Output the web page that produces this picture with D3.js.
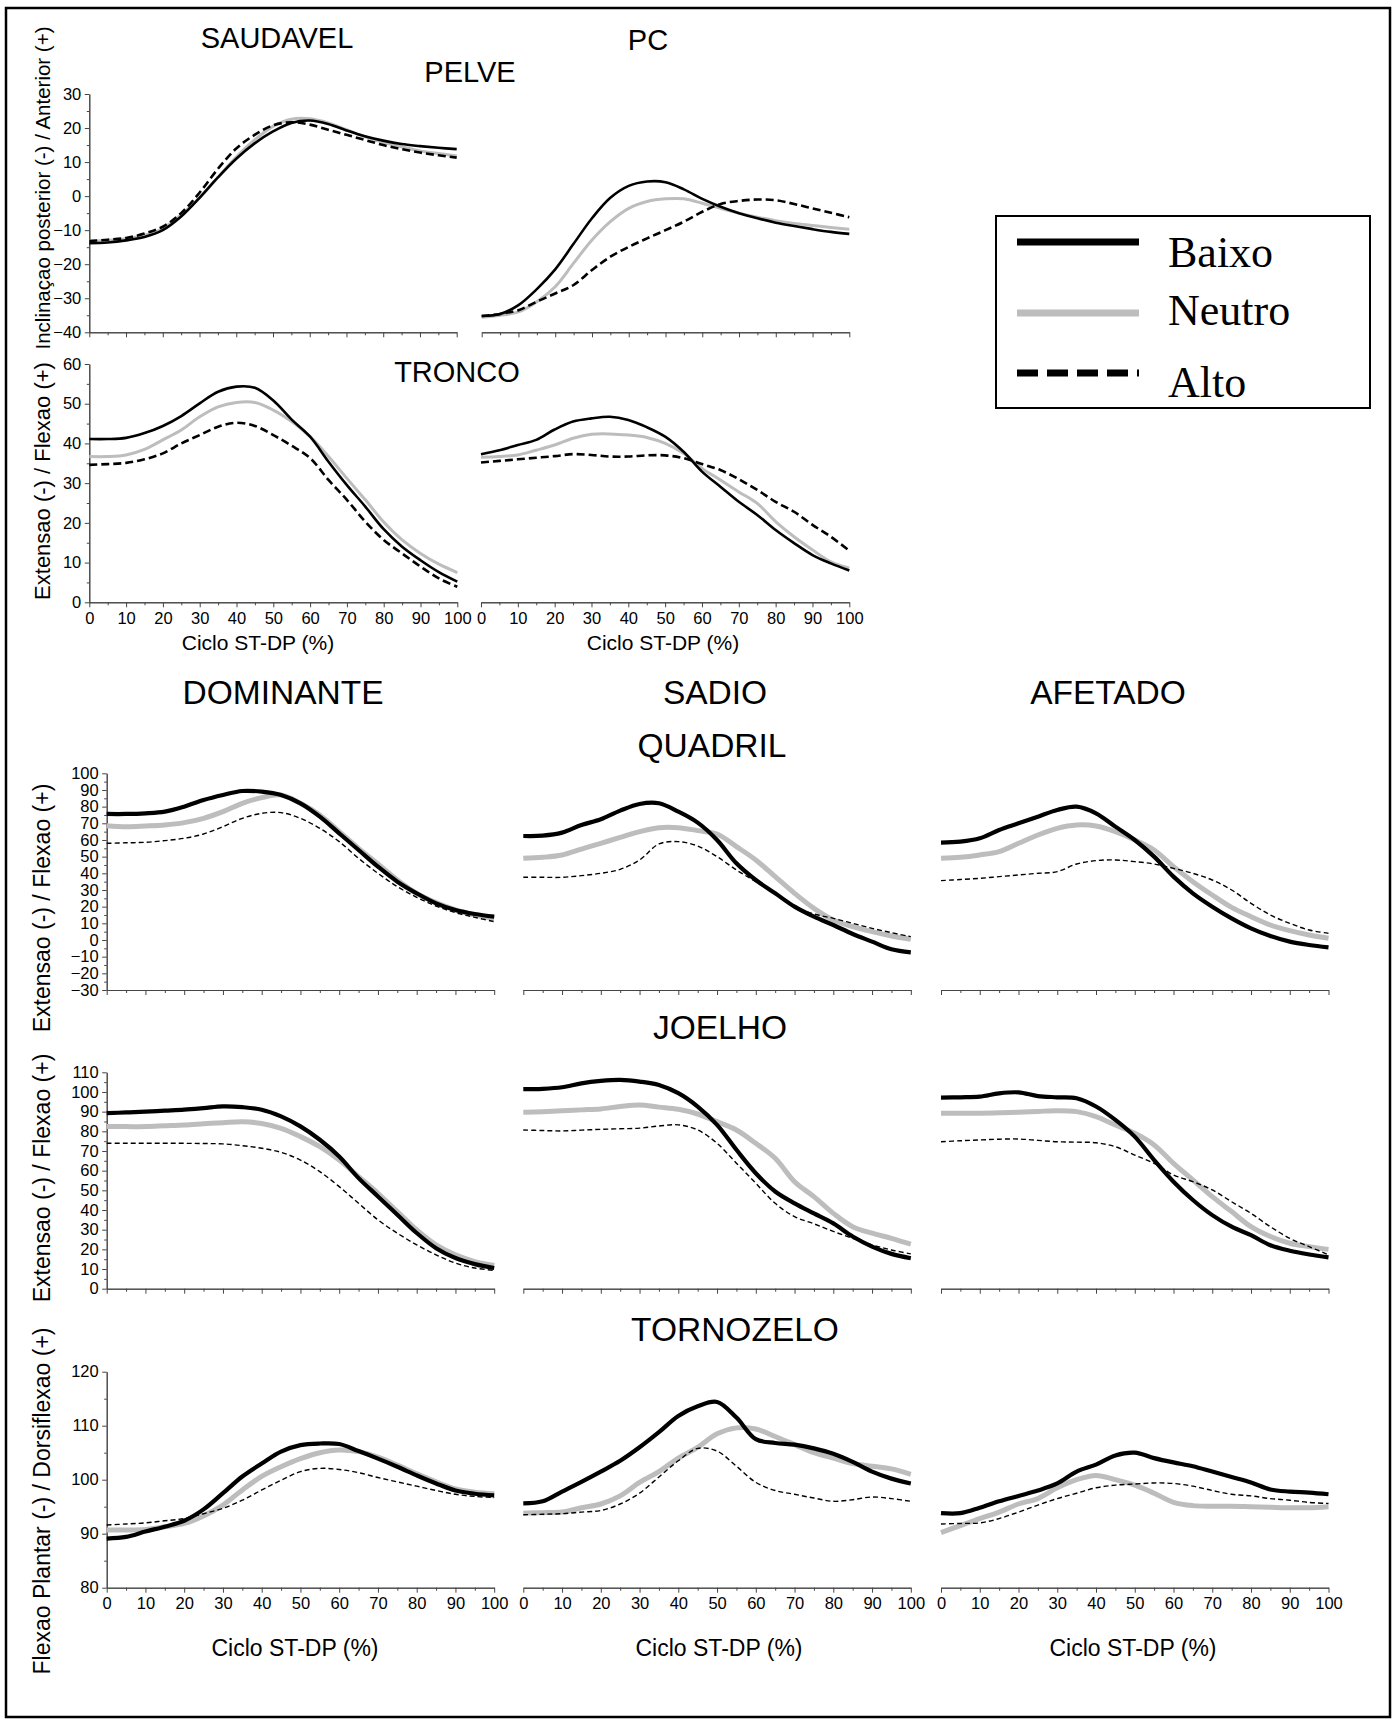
<!DOCTYPE html>
<html>
<head>
<meta charset="utf-8">
<script src="https://cdn.jsdelivr.net/npm/d3@7"></script>
<style>
body { margin: 0; background: #fff; }
svg text { font-family: "Liberation Sans", Arial, sans-serif; fill: #000; }
.axis path, .axis line { stroke: #444; stroke-width: 1; }
.axis text { font-size: 16.5px; font-family: "Liberation Sans", Arial, sans-serif; fill: #000; }
</style>
</head>
<body>
<svg id="chart" width="1393" height="1720"></svg>
<script>
// % of the ST-DP cycle
const cycle = [0, 5, 10, 15, 20, 25, 30, 35, 40, 45, 50, 55, 60, 65, 70, 75, 80, 85, 90, 95, 100];
const xTickLabels = [0, 10, 20, 30, 40, 50, 60, 70, 80, 90, 100];

const seriesNames = ['Baixo', 'Neutro', 'Alto'];

// PELVE
const pelveSaudBaixo  = [-13.8, -13.6, -13, -12, -10, -6, -0.5, 5.5, 11, 15.5, 19, 21.5, 22.2, 21.2, 19.3, 17.6, 16.3, 15.3, 14.7, 14.2, 13.8];
const pelveSaudNeutro = [-13.2, -13, -12.5, -11.5, -9.5, -5.5, -0.5, 5.5, 11.5, 16.5, 20.5, 22.6, 22.7, 21.5, 19.5, 17.5, 15.8, 14.5, 13.3, 12.5, 11.8];
const pelveSaudAlto   = [-13.2, -12.8, -12.3, -11, -9, -5, 1, 8, 14, 18, 20.8, 21.7, 21, 19.5, 18, 16.5, 15, 13.8, 12.8, 12, 11.3];
const pelvePcBaixo    = [-35.2, -34.6, -32, -27.3, -21.5, -14, -6.5, -0.5, 3, 4.3, 4.1, 2, -0.8, -3.1, -5, -6.5, -7.8, -8.8, -9.7, -10.5, -11.1];
const pelvePcNeutro   = [-35.6, -35, -34, -31, -26.6, -19.7, -12.9, -7.5, -3.6, -1.6, -0.8, -0.8, -2.1, -3.6, -5, -6.2, -7.2, -8, -8.6, -9.2, -9.7];
const pelvePcAlto     = [-35.2, -34.6, -33.5, -31, -28.6, -26.1, -21.7, -17.8, -14.9, -12.4, -10, -7.5, -4.6, -2.3, -1.4, -1, -1.2, -2.3, -3.6, -4.9, -6.2];

// TRONCO
const troncoSaudBaixo  = [41.1, 41.1, 41.4, 42.6, 44.4, 46.9, 50.1, 53, 54.3, 54, 50.8, 46, 41.7, 35.4, 29.5, 24.1, 18.4, 14, 10.6, 7.6, 5.2];
const troncoSaudNeutro = [36.7, 36.7, 37.1, 38.5, 40.9, 43.4, 46.7, 49.2, 50.3, 50.3, 48.4, 45.5, 41.7, 36.7, 31.2, 25.8, 20.2, 15.7, 12.3, 9.6, 7.5];
const troncoSaudAlto   = [34.6, 34.8, 35.1, 36, 37.5, 40, 42.1, 44.2, 45.2, 44.4, 42.1, 39.4, 36.3, 30.8, 25.8, 20.3, 15.7, 12.3, 9, 6, 3.9];
const troncoPcBaixo    = [37.3, 38.3, 39.6, 40.9, 43.5, 45.5, 46.3, 46.7, 45.9, 44.1, 41.7, 37.9, 32.9, 29.1, 25.3, 22, 18.2, 14.9, 11.9, 9.8, 8];
const troncoPcNeutro   = [36.5, 36.7, 37.1, 38.3, 39.6, 41.3, 42.3, 42.4, 42.1, 41.5, 40, 37.5, 33.7, 30.8, 27.8, 24.9, 20.3, 16.5, 13.2, 10.2, 8.6];
const troncoPcAlto     = [35.2, 35.6, 36, 36.4, 36.8, 37.3, 37.1, 36.7, 36.7, 37, 37, 36.3, 34.8, 33.3, 31, 28.3, 25.3, 22.8, 19.5, 16.5, 13];

// QUADRIL
const quadrilDomBaixo  = [75.6, 75.6, 76, 77, 80, 84, 87, 89.4, 89, 87, 82, 74, 64, 54, 44, 35, 28, 22, 18, 15.6, 14];
const quadrilDomNeutro = [68.6, 68, 68.4, 69, 70.4, 73, 77, 82, 85.4, 87, 82, 75, 65, 55, 45.6, 36, 28, 22.4, 18, 15, 13];
const quadrilDomAlto   = [58, 58.3, 58.6, 59.6, 61, 63.6, 68, 73, 76, 76.4, 73, 67, 59, 49, 40, 32, 25.6, 20.4, 16.4, 13.6, 11];
const quadrilSadBaixo  = [62.4, 62.6, 64.4, 69, 72.4, 77.6, 81.6, 82, 77, 70.4, 60, 46, 36, 28, 20, 14, 9, 3.6, -1, -5.6, -7.4];
const quadrilSadNeutro = [49, 49.6, 51, 54.5, 58, 61.5, 65, 67.4, 67.4, 65.6, 63.6, 56, 48, 38, 28, 19, 12, 8, 5, 2.4, 0.4];
const quadrilSadAlto   = [37.6, 37.6, 37.6, 38.6, 40, 42.4, 48, 57.6, 59, 56.4, 50, 42, 35, 28, 20, 15.6, 13, 10, 7, 4.4, 2];
const quadrilAfeBaixo  = [58.4, 59, 61, 66, 70, 74, 78, 80, 76, 68, 60, 50, 38, 28, 20, 13, 7, 2.4, -1, -3, -4.4];
const quadrilAfeNeutro = [49, 49.6, 51, 53, 58, 63, 67, 69, 68.4, 65, 60, 54, 44, 35, 27, 19.6, 14, 9, 5.6, 3, 1];
const quadrilAfeAlto   = [35.6, 36.3, 37, 38, 39, 40, 41, 45.6, 47.6, 48, 47, 45.6, 43, 40, 36, 30, 22, 15, 10, 6, 4];

// JOELHO
const joelhoDomBaixo  = [89.2, 89.6, 90, 90.5, 91, 91.8, 92.7, 92.3, 91, 87.6, 82.5, 75.7, 67.2, 56.2, 46.9, 37.6, 28.3, 20.6, 15.6, 12.5, 10.5];
const joelhoDomNeutro = [82.4, 82.4, 82.4, 82.8, 83.2, 83.8, 84.4, 84.9, 84, 81.5, 77.3, 72.2, 65.4, 57, 48.5, 39.2, 29.9, 22.3, 17.2, 13.8, 11.8];
const joelhoDomAlto   = [73.9, 73.9, 73.9, 73.9, 73.9, 73.8, 73.6, 72.7, 71.4, 69.3, 65.4, 59.5, 51.9, 43.4, 35, 28.2, 22.3, 17.2, 13, 10.5, 9.3];
const joelhoSadBaixo  = [101.4, 101.6, 102.4, 104.4, 105.6, 106.1, 105.3, 103.6, 99.4, 92.6, 83.3, 70.6, 58.7, 49.4, 43.4, 38.3, 33.2, 26.5, 21.4, 17.7, 15.5];
const joelhoSadNeutro = [89.7, 90, 90.4, 90.9, 91.4, 92.6, 93.4, 92.3, 91.2, 88.8, 84.9, 80.7, 73.9, 66.3, 54.4, 46.8, 38.3, 31.5, 28.2, 25.6, 22.6];
const joelhoSadAlto   = [80.7, 80.4, 80.2, 80.6, 81, 81.3, 81.6, 82.7, 83.3, 80.7, 73.9, 63.8, 53.6, 43.4, 36.6, 33, 29.1, 25.6, 22.3, 19.7, 17.7];
const joelhoAfeBaixo  = [97.1, 97.3, 97.6, 99.3, 99.8, 97.9, 97.3, 96.8, 92.6, 85.8, 77.3, 65.4, 54.4, 45.1, 37.4, 31.5, 27.2, 22.1, 19.3, 17.4, 15.9];
const joelhoAfeNeutro = [89.2, 89.2, 89.2, 89.4, 89.7, 90.1, 90.5, 90, 87.5, 83.2, 79, 73.1, 63.7, 55.3, 46.8, 39.2, 31.5, 26.5, 23.1, 21.4, 20];
const joelhoAfeAlto   = [74.7, 75.2, 75.6, 76, 76.1, 75.4, 74.7, 74.5, 74.2, 72.2, 67.9, 63.7, 57.8, 54.4, 50.2, 44.2, 38.3, 31.5, 25.6, 21.4, 17.2];

// TORNOZELO
const tornozeloDomBaixo  = [89.1, 89.4, 90.4, 91.3, 92.4, 94.5, 97.5, 100.6, 103, 105.2, 106.4, 106.7, 106.6, 105.3, 103.9, 102.4, 100.8, 99.3, 98, 97.4, 97.1];
const tornozeloDomNeutro = [90.7, 90.7, 90.8, 91.3, 91.9, 93.3, 95.3, 98.1, 100.6, 102.4, 103.9, 105, 105.5, 105.2, 104.2, 102.7, 101.1, 99.6, 98.3, 97.7, 97.4];
const tornozeloDomAlto   = [91.6, 91.8, 92, 92.4, 92.8, 93.7, 94.7, 96.2, 98.1, 99.9, 101.5, 102.1, 101.9, 101.3, 100.4, 99.6, 98.8, 98, 97.3, 96.9, 96.7];
const tornozeloSadBaixo  = [95.6, 96, 97.8, 99.6, 101.5, 103.5, 106, 108.8, 111.8, 113.6, 114.4, 111.5, 107.5, 106.8, 106.5, 105.8, 104.8, 103.3, 101.5, 100.2, 99.3];
const tornozeloSadNeutro = [93.8, 93.9, 94, 94.8, 95.5, 97, 99.5, 101.5, 104, 106, 108.5, 109.6, 109.4, 108, 106.5, 105, 104, 103, 102.5, 102, 101];
const tornozeloSadAlto   = [93.5, 93.6, 93.7, 94, 94.3, 95.5, 97.5, 100.5, 103.5, 105.8, 105.3, 102.5, 99.5, 98, 97.3, 96.6, 96, 96.3, 96.8, 96.5, 96];
const tornozeloAfeBaixo  = [93.8, 93.8, 94.8, 96, 97, 98, 99.3, 101.5, 102.8, 104.5, 105, 104, 103.2, 102.5, 101.5, 100.5, 99.5, 98.2, 97.8, 97.6, 97.3];
const tornozeloAfeNeutro = [90.2, 91.5, 92.8, 94, 95.5, 96.5, 98.5, 100, 100.8, 100, 99, 97.5, 95.8, 95.2, 95.1, 95.1, 95, 94.9, 94.8, 94.8, 95];
const tornozeloAfeAlto   = [91.8, 91.9, 92, 92.8, 94, 95.3, 96.5, 97.5, 98.5, 99, 99.2, 99.4, 99.3, 98.8, 98, 97.3, 97, 96.5, 96.2, 95.8, 95.6];

// y tick labels
const yTicksPelve = [-40, -30, -20, -10, 0, 10, 20, 30];
const yTicksTronco = [0, 10, 20, 30, 40, 50, 60];
const yTicksQuadril = [-30, -20, -10, 0, 10, 20, 30, 40, 50, 60, 70, 80, 90, 100];
const yTicksJoelho = [0, 10, 20, 30, 40, 50, 60, 70, 80, 90, 100, 110];
const yTicksTornozelo = [80, 90, 100, 110, 120];

const svg = d3.select('#chart');

// outer frame
svg.append('rect')
    .attr('x', 6).attr('y', 8)
    .attr('width', 1384).attr('height', 1709)
    .attr('fill', 'none').attr('stroke', '#000').attr('stroke-width', 2.5);

const thin = {
    Baixo: { color: '#000', width: 2.6, dash: null },
    Neutro: { color: '#bdbdbd', width: 3, dash: null },
    Alto: { color: '#000', width: 2.6, dash: '8,4' }
};
const heavy = {
    Baixo: { color: '#000', width: 4.2, dash: null },
    Neutro: { color: '#bdbdbd', width: 5, dash: null },
    Alto: { color: '#000', width: 1.4, dash: '5,3' }
};

const cols = [106.7, 523.3, 941];
const colW = 387.5;

const panels = [
    { series: [pelveSaudBaixo, pelveSaudNeutro, pelveSaudAlto], x: [89.3, 456.7], y: [332.3, 94], yTicks: yTicksPelve, yAxis: true, xLabels: false, style: thin },
    { series: [pelvePcBaixo, pelvePcNeutro, pelvePcAlto], x: [481.7, 849.3], y: [332.3, 94], yTicks: yTicksPelve, yAxis: false, xLabels: false, style: thin },
    { series: [troncoSaudBaixo, troncoSaudNeutro, troncoSaudAlto], x: [89.3, 457.3], y: [602.3, 364], yTicks: yTicksTronco, yAxis: true, xLabels: true, style: thin },
    { series: [troncoPcBaixo, troncoPcNeutro, troncoPcAlto], x: [481, 849.3], y: [602.3, 364], yTicks: yTicksTronco, yAxis: false, xLabels: true, style: thin },
    { series: [quadrilDomBaixo, quadrilDomNeutro, quadrilDomAlto], col: 0, y: [990, 773.3], yTicks: yTicksQuadril, yAxis: true, xLabels: false, style: heavy },
    { series: [quadrilSadBaixo, quadrilSadNeutro, quadrilSadAlto], col: 1, y: [990, 773.3], yTicks: yTicksQuadril, yAxis: false, xLabels: false, style: heavy },
    { series: [quadrilAfeBaixo, quadrilAfeNeutro, quadrilAfeAlto], col: 2, y: [990, 773.3], yTicks: yTicksQuadril, yAxis: false, xLabels: false, style: heavy },
    { series: [joelhoDomBaixo, joelhoDomNeutro, joelhoDomAlto], col: 0, y: [1288.7, 1072.3], yTicks: yTicksJoelho, yAxis: true, xLabels: false, style: heavy },
    { series: [joelhoSadBaixo, joelhoSadNeutro, joelhoSadAlto], col: 1, y: [1288.7, 1072.3], yTicks: yTicksJoelho, yAxis: false, xLabels: false, style: heavy },
    { series: [joelhoAfeBaixo, joelhoAfeNeutro, joelhoAfeAlto], col: 2, y: [1288.7, 1072.3], yTicks: yTicksJoelho, yAxis: false, xLabels: false, style: heavy },
    { series: [tornozeloDomBaixo, tornozeloDomNeutro, tornozeloDomAlto], col: 0, y: [1587.7, 1371.7], yTicks: yTicksTornozelo, yAxis: true, xLabels: true, style: heavy },
    { series: [tornozeloSadBaixo, tornozeloSadNeutro, tornozeloSadAlto], col: 1, y: [1587.7, 1371.7], yTicks: yTicksTornozelo, yAxis: false, xLabels: true, style: heavy },
    { series: [tornozeloAfeBaixo, tornozeloAfeNeutro, tornozeloAfeAlto], col: 2, y: [1587.7, 1371.7], yTicks: yTicksTornozelo, yAxis: false, xLabels: true, style: heavy }
];

function drawPanel(p) {
    const xr = p.x || [cols[p.col], cols[p.col] + colW];
    const yDom = d3.extent(p.yTicks);
    const xScale = d3.scaleLinear().domain([0, 100]).range(xr);
    const yScale = d3.scaleLinear().domain(yDom).range(p.y);

    const g = svg.append('g');

    // x axis: minor ticks every 5, major every 10
    const minorX = cycle.filter(v => v % 10 !== 0);
    g.append('g')
        .attr('class', 'axis')
        .attr('transform', `translate(0,${p.y[0]})`)
        .call(d3.axisBottom(xScale).tickValues(minorX).tickSize(3).tickSizeOuter(0).tickFormat(''));
    g.append('g')
        .attr('class', 'axis')
        .attr('transform', `translate(0,${p.y[0]})`)
        .call(d3.axisBottom(xScale).tickValues(xTickLabels).tickSize(5).tickSizeOuter(0).tickPadding(5)
            .tickFormat(p.xLabels ? d3.format('d') : ''));

    if (p.yAxis) {
        const step = p.yTicks[1] - p.yTicks[0];
        const minorY = p.yTicks.slice(0, -1).map(v => v + step / 2);
        g.append('g')
            .attr('class', 'axis')
            .attr('transform', `translate(${xr[0]},0)`)
            .call(d3.axisLeft(yScale).tickValues(minorY).tickSize(2.5).tickSizeOuter(0).tickFormat(''));
        g.append('g')
            .attr('class', 'axis')
            .attr('transform', `translate(${xr[0]},0)`)
            .call(d3.axisLeft(yScale).tickValues(p.yTicks).tickSize(4.5).tickSizeOuter(0).tickPadding(3.5)
                .tickFormat(d3.format('d')));
    }

    const line = d3.line()
        .x(d => xScale(d[0]))
        .y(d => yScale(d[1]))
        .curve(d3.curveCatmullRom.alpha(0.5));

    [1, 2, 0].forEach(i => {
        const st = p.style[seriesNames[i]];
        g.append('path')
            .datum(cycle.map((c, k) => [c, p.series[i][k]]))
            .attr('d', line)
            .attr('fill', 'none')
            .attr('stroke', st.color)
            .attr('stroke-width', st.width)
            .attr('stroke-dasharray', st.dash)
            .attr('stroke-linejoin', 'round');
    });
}

panels.forEach(drawPanel);

// titles
const titles = [
    { t: 'SAUDAVEL', x: 277, y: 48, s: 29 },
    { t: 'PELVE', x: 470, y: 82, s: 29 },
    { t: 'PC', x: 648, y: 50, s: 29 },
    { t: 'TRONCO', x: 457, y: 382, s: 29 },
    { t: 'DOMINANTE', x: 283, y: 704, s: 33.5 },
    { t: 'SADIO', x: 715, y: 704, s: 33.5 },
    { t: 'AFETADO', x: 1108, y: 704, s: 33.5 },
    { t: 'QUADRIL', x: 712, y: 757, s: 33.5 },
    { t: 'JOELHO', x: 720, y: 1039, s: 33.5 },
    { t: 'TORNOZELO', x: 735, y: 1341, s: 33.5 }
];
svg.selectAll('text.title')
    .data(titles)
    .enter()
    .append('text')
    .attr('class', 'title')
    .attr('x', d => d.x)
    .attr('y', d => d.y)
    .attr('text-anchor', 'middle')
    .style('font-size', d => d.s + 'px')
    .text(d => d.t);

// x axis titles
const xTitles = [
    { x: 258, y: 650, s: 21 },
    { x: 663, y: 650, s: 21 },
    { x: 295, y: 1656, s: 23 },
    { x: 719, y: 1656, s: 23 },
    { x: 1133, y: 1656, s: 23 }
];
svg.selectAll('text.xtitle')
    .data(xTitles)
    .enter()
    .append('text')
    .attr('class', 'xtitle')
    .attr('x', d => d.x)
    .attr('y', d => d.y)
    .attr('text-anchor', 'middle')
    .style('font-size', d => d.s + 'px')
    .text('Ciclo ST-DP (%)');

// y axis titles
const yTitles = [
    { t: 'Inclinaçao posterior (-) / Anterior (+)', y: 188, s: 20.5 },
    { t: 'Extensao (-) / Flexao (+)', y: 481, s: 22 },
    { t: 'Extensao (-) / Flexao (+)', y: 908, s: 23 },
    { t: 'Extensao (-) / Flexao (+)', y: 1178, s: 23 },
    { t: 'Flexao Plantar (-) / Dorsiflexao (+)', y: 1501, s: 23 }
];
svg.selectAll('text.ytitle')
    .data(yTitles)
    .enter()
    .append('text')
    .attr('class', 'ytitle')
    .attr('transform', d => `translate(42,${d.y}) rotate(-90)`)
    .attr('text-anchor', 'middle')
    .attr('dominant-baseline', 'central')
    .style('font-size', d => d.s + 'px')
    .text(d => d.t);

// legend
const legend = svg.append('g');
legend.append('rect')
    .attr('x', 996).attr('y', 216)
    .attr('width', 374).attr('height', 192)
    .attr('fill', '#fff').attr('stroke', '#000').attr('stroke-width', 2);

const legendRows = [
    { name: 'Baixo', ly: 242, ty: 267 },
    { name: 'Neutro', ly: 313, ty: 325 },
    { name: 'Alto', ly: 373, ty: 397 }
];
legendRows.forEach(r => {
    const st = thin[r.name];
    legend.append('line')
        .attr('x1', 1017).attr('x2', 1139)
        .attr('y1', r.ly).attr('y2', r.ly)
        .attr('stroke', st.color)
        .attr('stroke-width', 7)
        .attr('stroke-dasharray', st.dash ? '21,9' : null);
    legend.append('text')
        .attr('x', 1168).attr('y', r.ty)
        .style('font-family', '"Liberation Serif", "Times New Roman", serif')
        .style('font-size', '44px')
        .text(r.name);
});
</script>
</body>
</html>
